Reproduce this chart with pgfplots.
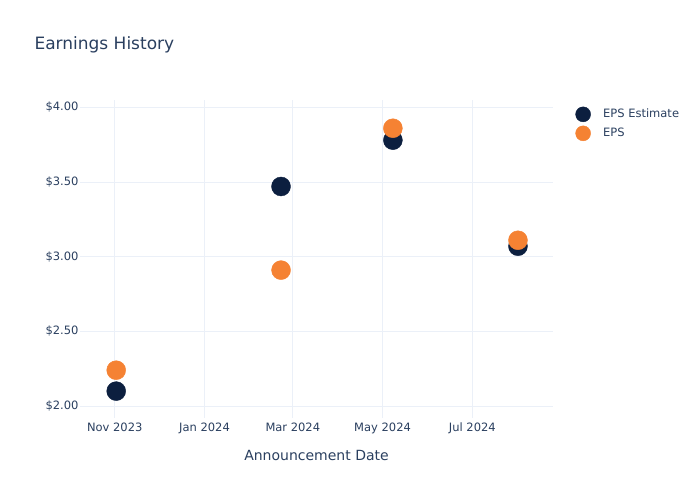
\documentclass[border=0pt]{standalone}
\usepackage{pgfplots}
\pgfplotsset{compat=1.18}
\usepackage{fontspec}
\setmainfont{DejaVu Sans}
\definecolor{txt}{HTML}{2A3F5F}
\definecolor{gridc}{HTML}{EBF0F8}
\definecolor{navy}{HTML}{0C1F3F}
\definecolor{orng}{HTML}{F58233}
\begin{document}
\begin{tikzpicture}
\path[use as bounding box] (0pt,0pt) rectangle (700pt,500pt);
\node[anchor=west,text=txt,font=\fontsize{17}{20}\selectfont] at (31pt,455pt) {Earnings History};
\begin{axis}[
  at={(80pt,82pt)}, anchor=south west,
  scale only axis, width=473pt, height=318pt,
  xmin=-23.6, xmax=297.8, ymin=1.92, ymax=4.049,
  xtick={0,61,121,182,243},
  xticklabels={Nov 2023,Jan 2024,Mar 2024,May 2024,Jul 2024},
  ytick={2,2.5,3,3.5,4},
  yticklabel={\$\pgfmathprintnumber[fixed,fixed zerofill,precision=2]{\tick}},
  /pgf/number format/assume math mode=true,
  grid=major, major grid style={draw=gridc, line width=0.8pt},
  axis line style={draw=none}, tick style={draw=none},
  ticklabel style={text=txt, font=\fontsize{11.5}{13}\selectfont},
  yticklabel style={xshift=2pt},
  xticklabel style={yshift=-1pt},
  xlabel={Announcement Date},
  xlabel style={text=txt, font=\fontsize{14}{16}\selectfont, yshift=-10pt},
  legend style={at={(1.04,0.987)}, anchor=north west, draw=none, fill=none,
    font=\fontsize{11.5}{13}\selectfont, text=txt, row sep=3pt},
  legend cell align=left,
  legend image code/.code={\path[draw=none,fill=none] (-8pt,-8pt) rectangle (18pt,8pt);
    \draw[mark=*,mark size=7.5pt,only marks] plot coordinates {(0pt,0pt)};},
]
\addplot[only marks, mark=*, mark size=9.5pt, color=navy] coordinates {
 (1,2.10) (113,3.47) (189,3.78) (274,3.07)};
\addlegendentry{EPS Estimate}
\addplot[only marks, mark=*, mark size=9.5pt, color=orng] coordinates {
 (1,2.24) (113,2.91) (189,3.86) (274,3.11)};
\addlegendentry{EPS}
\end{axis}
\end{tikzpicture}
\end{document}
